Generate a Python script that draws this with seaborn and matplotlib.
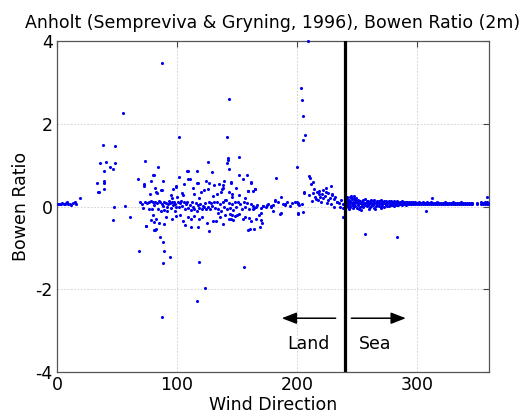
import numpy as np
import pandas as pd
import matplotlib
matplotlib.use("Agg")
import matplotlib.pyplot as plt
import seaborn as sns

# ---------------- data ----------------
# land sector 0-62 deg
dir_a = [0.5, 1.5, 2.5, 3.5, 4.5, 5.5, 6.5, 7.5, 8.5, 9.5, 10.5, 12, 13.5, 15, 16, 19.2,
         33.1, 34.4, 35.3, 36.1, 38.1, 38.9, 39.2, 39.4, 39.2, 41.1, 44.2, 46.4, 48.1, 48, 46.7, 47.8, 55.3, 56.4, 61.1]
bow_a = [0.06, 0.05, 0.07, 0.06, 0.08, 0.06, 0.07, 0.09, 0.1, 0.07, 0.05, 0.04, 0.08, 0.1, 0.07, 0.21,
         0.57, 0.34, 0.36, 1.06, 1.48, 0.42, 0.62, 0.58, 0.85, 1.07, 0.96, 0.90, 1.06, 1.47, -0.33, -0.02, 2.27, 0.01, -0.25]

# land sector 62-100 deg
dir_b = [67.2, 72.5, 72.8, 73.3, 77.5, 78.3, 80.3, 80.5, 81.7, 82.2, 83, 84.4, 86.4, 87.2, 87.2, 88.6, 94.7, 95.6, 96.4, 99.2, 99.4, 99.7,
         69.4, 70.5, 73.5, 75, 76.5, 78.6, 80, 81, 82, 83.5, 85, 86, 87.5, 88.5, 89.5, 90.5, 91.5, 92.5, 93, 94, 95.5, 96.5, 97.5, 98.5, 99.5,
         71.6, 77, 79, 84, 86.5, 89, 92, 95, 98,
         68.3, 74.2, 74.4, 78.3, 80.3, 80.6, 81.5, 81, 82.2, 85, 85.8, 88.3, 89.4, 88.3, 94.4, 87.5, 89.2, 82.5, 91, 96, 99]
bow_b = [0.66, 0.50, 0.55, 1.11, 0.31, 0.62, 0.75, 0.76, 0.45, 0.36, 0.32, 0.96, 0.40, 3.48, 0.40, 0.62, 0.28, 0.2, 0.42, 0.48, 0.49, 0.24,
         0.12, 0.05, 0.1, 0.08, 0.12, 0.14, 0.1, 0.04, 0.12, 0.08, 0.13, 0.1, 0.06, 0.02, 0.11, 0.09, -0.02, 0.05, 0.14, 0.08, 0.12, 0.03, 0.1, 0.06, 0.0,
         -0.03, -0.07, -0.07, -0.05, -0.1, -0.08, -0.12, -0.04, -0.1,
         -1.08, -0.46, -0.48, -0.33, -0.2, -0.57, -0.58, -0.37, -0.55, -0.40, -0.74, -0.87, -1.08, -1.37, -1.21, -2.66, -0.43, -0.3, -0.25, -0.3, -0.22]

# land sector 100-170 deg
dir_c = [102, 104.4, 104.7, 106, 108, 109.2, 109.4, 110.8, 113, 114, 116.4, 116.4, 117.5, 118.5, 120, 122.5, 124, 125.6, 125.8, 126.8,
         128.9, 130, 131, 133, 135, 136.5, 137.5, 138, 138.5, 139, 140, 141.9, 142, 142.3, 142.6, 143.6, 143.6, 144.6, 145, 143.6,
         145.5, 146, 149, 151.7, 151.9, 152, 155.3, 157, 158, 159, 161.7, 163, 165, 101.7,
         100.5, 101.5, 102.5, 103.5, 104.5, 105.5, 106.5, 107.5, 108.5, 109.5, 110.5, 111.5, 112.5, 113.5, 114.5, 115.5, 116.5, 117.5,
         118.5, 119.5, 120.5, 121.5, 122.5, 123.5, 124.5, 125.5, 126.5, 127.5, 128.5, 129.5,
         131, 132, 133.5, 134.5, 136, 137, 138.5, 139.5, 141, 142, 143, 144, 145.5, 147, 148, 149.5, 151, 152.5, 154, 155.5, 157, 158.5,
         160, 161.5, 163, 164.5,
         102.5, 105, 107, 109, 111.4, 112, 114, 117.8, 118, 118.6, 121, 123.6, 116.4, 125, 127, 130, 132.2, 134, 135.8, 138,
         140, 143, 144, 145, 146, 147, 148.5, 150, 152, 155.8, 155, 157, 159.4, 160, 162, 164.4, 166, 168, 170]
bow_c = [0.72, 0.32, 0.29, 0.55, 0.85, 0.66, 0.87, 0.66, 0.45, 0.3, 0.86, 0.57, 0.58, 0.2, 0.35, 0.40, 0.62, 1.07, 0.42, 0.58,
         0.83, 0.25, 0.52, 0.3, 0.55, 0.36, 0.42, 0.52, 0.45, 0.62, 0.16, 1.67, 1.05, 1.12, 1.17, 2.61, 0.90, 0.57, 0.6, 0.35,
         0.22, 0.3, 0.45, 1.20, 0.76, 0.28, 0.66, 0.2, 0.75, 0.37, 0.58, 0.37, 0.42, 1.69,
         0.1, -0.02, 0.08, 0.14, 0.02, 0.11, -0.05, 0.06, 0.12, -0.03, 0.04, -0.08, 0.1, 0.0, -0.05, 0.08, -0.1, 0.03,
         -0.04, 0.06, -0.07, 0.02, -0.02, 0.09, -0.05, 0.0, 0.1, -0.06, 0.08, 0.02,
         0.1, -0.03, 0.12, -0.06, 0.05, -0.1, 0.1, 0.0, 0.15, -0.06, 0.08, -0.03, 0.06, -0.08, 0.12, -0.02, 0.1, 0.05, -0.05, 0.1, 0.0, 0.08,
         -0.05, 0.05, 0.02, -0.04,
         -0.2, -0.35, -0.45, -0.25, -0.49, -0.3, -0.22, -0.49, -0.3, -1.33, -0.25, -1.98, -2.29, -0.4, -0.6, -0.35, -0.34, -0.15, -0.25, -0.42,
         -0.2, -0.3, -0.18, -0.3, -0.2, -0.32, -0.22, -0.2, -0.18, -1.47, -0.3, -0.25, -0.57, -0.28, -0.35, -0.55, -0.3, -0.2, -0.32]

# land sector 160-240 deg
dir_d = [163, 166, 167, 170, 172, 174, 176, 178, 180, 182, 188, 190, 192, 194, 196, 198,
         182.2, 187, 181.7, 179.7, 190, 187, 184, 162, 165, 159.4, 172, 175, 178, 170, 169, 161, 171, 185.8,
         200, 200, 200.5, 200.8, 203, 204.2, 205.3, 207, 205.3, 206, 209.2, 209.7, 210.5, 213, 212,
         205.8, 210, 213.6, 215, 217, 219, 220.6, 221.4, 223.3, 226, 227.5, 228.3, 217.8, 212.2, 225.3, 228.6, 230.8, 233,
         235, 236.5, 238, 236, 238, 204.7, 201, 203.9, 200.5, 201.5,
         216, 218, 220, 222, 224, 226, 229, 231, 233, 214, 218.5, 224.5, 229.5, 232, 238.6]
bow_d = [-0.05, 0.0, 0.03, -0.03, 0.02, 0.0, 0.05, -0.02, 0.04, 0.15, 0.05, 0.06, 0.1, 0.02, 0.08, 0.1,
         0.68, 0.24, 0.14, -0.12, 0.04, -0.16, 0.1, 0.6, 0.42, 0.38, 0.02, 0.03, 0.01, -0.15, -0.5, -0.55, -0.41, -0.17,
         0.95, 0.12, 0.08, -0.17, 2.87, 2.57, 2.18, 1.74, 1.61, 0.34, 3.99, 0.74, 0.70, 0.6, 0.55,
         0.33, 0.28, 0.32, 0.22, 0.36, 0.24, 0.3, 0.4, 0.26, 0.32, 0.2, 0.5, 0.16, 0.14, 0.09, 0.06, 0.0, 0.12,
         0.08, 0.15, 0.05, -0.02, -0.03, -0.14, -0.16, 0.06, 0.05, 0.04,
         0.18, 0.3, 0.12, 0.2, 0.35, 0.15, 0.28, 0.18, 0.1, 0.42, 0.38, 0.45, 0.3, 0.22, -0.25]

# sea sector: dense band 240-295 deg (three rows of the band)
sea_dir_dense = [240.5, 241.5, 242.5, 243.5, 244.5, 245.5, 246.5, 247.5, 248.5, 250, 251, 252.5, 254, 255, 256.5, 258, 259,
                 260.5, 262, 263, 264.5, 266, 267, 268.5, 270, 271, 272.5, 274, 275, 276.5, 278, 279, 280.5, 282, 283,
                 284.5, 286, 287.5, 289, 290.5, 292, 293.5, 295]
sea_upper = [0.15, 0.18, 0.13, 0.16, 0.14, 0.2, 0.12, 0.17, 0.15, 0.13, 0.16, 0.14, 0.12, 0.15, 0.17, 0.13, 0.14, 0.12, 0.16, 0.13,
             0.15, 0.12, 0.14, 0.13, 0.16, 0.12, 0.14, 0.13, 0.12, 0.14, 0.13, 0.12, 0.13, 0.12, 0.14, 0.12, 0.11, 0.13, 0.12, 0.11,
             0.12, 0.11, 0.12]
sea_mid = [0.08, 0.06, 0.09, 0.07, 0.1, 0.08, 0.09, 0.07, 0.08, 0.1, 0.09, 0.08, 0.07, 0.09, 0.08, 0.1, 0.07, 0.09, 0.08, 0.07,
           0.09, 0.08, 0.1, 0.08, 0.07, 0.09, 0.08, 0.07, 0.09, 0.08, 0.07, 0.08, 0.09, 0.07, 0.08, 0.09, 0.07, 0.08, 0.07, 0.08,
           0.07, 0.08, 0.07]
sea_lower = [0.01, 0.03, -0.02, 0.02, 0.0, 0.04, -0.03, 0.02, 0.01, -0.04, 0.03, 0.0, 0.02, -0.02, 0.03, 0.01, 0.04, -0.01, 0.02, 0.03,
             -0.03, 0.01, 0.04, 0.02, 0.0, 0.03, -0.02, 0.04, 0.02, 0.01, 0.03, 0.04, 0.02, 0.03, 0.04, 0.03, 0.05, 0.04, 0.05, 0.04,
             0.05, 0.06, 0.05]

# sea sector: thinner band 296-360 deg
sea_dir_thin = [296.5, 298, 300, 301.5, 303, 305, 306.5, 308, 310, 311.5, 313, 315, 316.5, 318, 320, 321.5, 323, 325, 326.5,
                328, 330, 331.5, 333, 335, 336.5, 338, 340, 341.5, 343, 345, 346, 350, 353.5, 355, 356.5, 358, 359.5]
sea_thin_upper = [0.1, 0.11, 0.09, 0.1, 0.09, 0.1, 0.09, 0.1, 0.09, 0.1, 0.08, 0.09, 0.1, 0.09, 0.08, 0.09, 0.1, 0.09, 0.08, 0.09,
                  0.1, 0.09, 0.08, 0.09, 0.1, 0.09, 0.08, 0.09, 0.08, 0.09, 0.08, 0.08, 0.1, 0.09, 0.12, 0.1, 0.09]
sea_thin_lower = [0.06, 0.07, 0.05, 0.06, 0.07, 0.05, 0.06, 0.05, 0.07, 0.06, 0.05, 0.06, 0.05, 0.06, 0.05, 0.06, 0.05, 0.06, 0.05, 0.06,
                  0.05, 0.06, 0.05, 0.05, 0.06, 0.05, 0.05, 0.06, 0.05, 0.06, 0.05, 0.06, 0.06, 0.05, 0.07, 0.06, 0.05]

# sea sector: scattered points
sea_dir_out = [241, 242, 243.5, 245, 247.5, 249, 252, 256.4, 283.6, 307.8, 312.8, 358, 253, 260, 265, 270, 244, 246]
sea_bow_out = [0.2, 0.22, -0.05, 0.25, 0.25, 0.2, -0.06, -0.66, -0.73, -0.11, 0.2, 0.22, -0.08, -0.06, -0.05, -0.04, 0.22, 0.19]

x_ticks = [0, 100, 200, 300]
y_ticks = [-4, -2, 0, 2, 4]
boundary_dir = 240

# ---------------- table ----------------
all_dir = (dir_a + dir_b + dir_c + dir_d + sea_dir_dense * 3 + sea_dir_thin * 2 + sea_dir_out)
all_bow = (bow_a + bow_b + bow_c + bow_d + sea_upper + sea_mid + sea_lower + sea_thin_upper + sea_thin_lower + sea_bow_out)
df = pd.DataFrame({"dir": all_dir, "bowen": all_bow})

# ---------------- plot ----------------
sns.set_style("white")
plt.rcParams["font.family"] = ["DejaVu Sans"]
plt.rcParams["axes.unicode_minus"] = False
plt.rcParams["text.color"] = "black"
plt.rcParams["axes.labelcolor"] = "black"

fig = plt.figure(figsize=(5.26, 4.20), dpi=100)
ax = fig.add_axes([57 / 526, 1 - 372 / 420, (489 - 57) / 526, (372 - 41) / 420])

sns.scatterplot(data=df, x="dir", y="bowen", color="#0000ee", s=5, linewidth=0, ax=ax, zorder=3, clip_on=False)

ax.set_xlim(0, 360)
ax.set_ylim(-4, 4)
ax.set_xticks(x_ticks)
ax.set_yticks(y_ticks)
ax.set_xticklabels([str(v) for v in x_ticks])
ax.set_yticklabels([str(v) for v in y_ticks])
ax.grid(True, color="#cccccc", linestyle=(0, (2, 2)), linewidth=0.6)
ax.tick_params(direction="in", length=4, width=0.8, color="#444444", labelcolor="black", labelsize=12.5,
               top=True, right=True, pad=3)
for sp in ax.spines.values():
    sp.set_color("#555555")
    sp.set_linewidth(0.9)

ax.axvline(boundary_dir, color="black", lw=2.3, zorder=4)

ax.annotate("", xy=(185, -2.7), xytext=(234.5, -2.7),
            arrowprops=dict(arrowstyle="-|>,head_length=0.9,head_width=0.35", color="black", lw=1.1))
ax.annotate("", xy=(293, -2.7), xytext=(243, -2.7),
            arrowprops=dict(arrowstyle="-|>,head_length=0.9,head_width=0.35", color="black", lw=1.1))
ax.text(209.5, -3.32, "Land", ha="center", va="center", fontsize=12.5)
ax.text(265, -3.32, "Sea", ha="center", va="center", fontsize=12.5)

ax.set_xlabel("Wind Direction", fontsize=12.5, labelpad=1)
ax.set_ylabel("Bowen Ratio", fontsize=12.5, labelpad=4)
ax.set_title("Anholt (Sempreviva & Gryning, 1996), Bowen Ratio (2m)", fontsize=12.5, pad=9, color="black")

fig.savefig("out.png", dpi=100)
